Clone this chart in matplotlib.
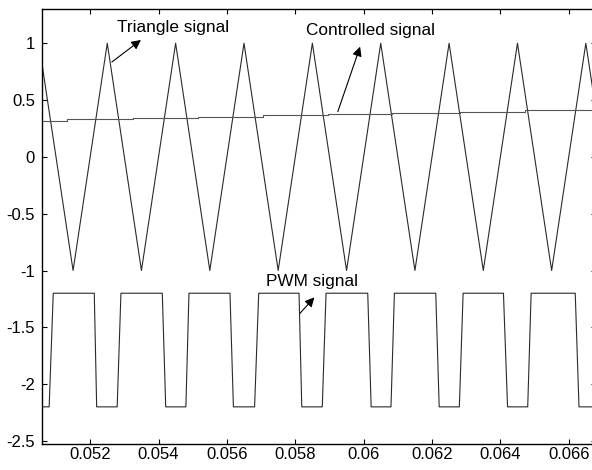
import numpy as np
import matplotlib
matplotlib.use("Agg")
import matplotlib.pyplot as plt

plt.rcParams['font.family'] = ['Liberation Sans', 'DejaVu Sans']
plt.rcParams['axes.unicode_minus'] = False

# triangle carrier: vertices
tri_t = [0.0505, 0.0515, 0.0525, 0.0535, 0.0545, 0.0555, 0.0565, 0.0575, 0.0585,
         0.0595, 0.0605, 0.0615, 0.0625, 0.0635, 0.0645, 0.0655, 0.0665, 0.0675]
tri_v = [1, -1, 1, -1, 1, -1, 1, -1, 1,
         -1, 1, -1, 1, -1, 1, -1, 1, -1]

# controlled (reference) signal, staircase
cs_t = [0.0505, 0.05131, 0.05326, 0.05515, 0.05706, 0.05896, 0.06083, 0.06283, 0.06473, 0.0675]
cs_v = [0.316, 0.331, 0.340, 0.354, 0.366, 0.378, 0.389, 0.398, 0.410, 0.410]

# PWM output, edges
pwm_t = [0.0505,
         0.05080, 0.05092, 0.05212, 0.05219,
         0.05279, 0.05290, 0.05411, 0.05421,
         0.05480, 0.05489, 0.05609, 0.05619,
         0.05681, 0.05693, 0.05811, 0.05819,
         0.05879, 0.05890, 0.06012, 0.06022,
         0.06080, 0.06090, 0.06211, 0.06221,
         0.06280, 0.06291, 0.06409, 0.06421,
         0.06480, 0.06490, 0.06619, 0.06630,
         0.0675]
pwm_v = [-2.2,
         -2.2, -1.2, -1.2, -2.2,
         -2.2, -1.2, -1.2, -2.2,
         -2.2, -1.2, -1.2, -2.2,
         -2.2, -1.2, -1.2, -2.2,
         -2.2, -1.2, -1.2, -2.2,
         -2.2, -1.2, -1.2, -2.2,
         -2.2, -1.2, -1.2, -2.2,
         -2.2, -1.2, -1.2, -2.2,
         -2.2]

xticks = [0.052, 0.054, 0.056, 0.058, 0.060, 0.062, 0.064, 0.066]
xlabels = ['0.052', '0.054', '0.056', '0.058', '0.06', '0.062', '0.064', '0.066']
yticks = [1, 0.5, 0, -0.5, -1, -1.5, -2, -2.5]
ylabels = ['1', '0.5', '0', '-0.5', '-1', '-1.5', '-2', '-2.5']

fig = plt.figure(figsize=(5.92, 4.70), dpi=100)
ax = fig.add_axes([0.0709, 0.0553, 0.936, 0.9257])

ax.plot(tri_t, tri_v, color='#2a2a2a', lw=0.8)
ax.step(cs_t, cs_v, where='post', color='#555555', lw=0.8)
ax.plot(pwm_t, pwm_v, color='#2a2a2a', lw=0.8)

ax.set_xlim(0.05059, 0.0668)
ax.set_ylim(-2.527, 1.302)
ax.set_xticks(xticks)
ax.set_xticklabels(xlabels)
ax.set_yticks(yticks)
ax.set_yticklabels(ylabels)
ax.tick_params(direction='in', top=True, right=True, length=3.5, width=0.8,
               labelsize=12)
ax.tick_params(axis='x', pad=2)
ax.tick_params(axis='y', pad=5)
for s in ax.spines.values():
    s.set_linewidth(1.0)

arrow = dict(arrowstyle='-|>', color='k', lw=0.8, mutation_scale=14,
             shrinkA=0, shrinkB=0)

ax.text(0.05278, 1.135, 'Triangle signal', fontsize=12.4, ha='left', va='center')
ax.annotate('', xy=(0.053485, 1.029), xytext=(0.052635, 0.835), arrowprops=arrow)

ax.text(0.05832, 1.108, 'Controlled signal', fontsize=12.4, ha='left', va='center')
ax.annotate('', xy=(0.059897, 0.970), xytext=(0.059244, 0.398), arrowprops=arrow)

ax.text(0.05714, -1.099, 'PWM signal', fontsize=12.4, ha='left', va='center')
ax.annotate('', xy=(0.058559, -1.236), xytext=(0.058137, -1.377), arrowprops=arrow)

fig.savefig('out.png', dpi=100)
